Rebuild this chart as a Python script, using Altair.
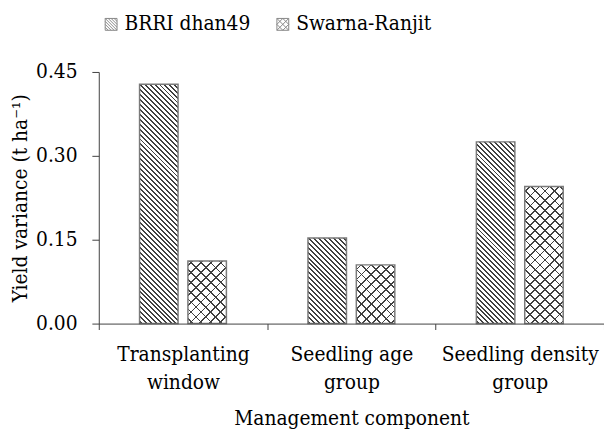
import altair as alt
import pandas as pd

# ---------------- data ----------------
components = ["Transplanting window", "Seedling age group", "Seedling density group"]
varieties = ["BRRI dhan49", "Swarna-Ranjit"]
brri_values = [0.428, 0.153, 0.325]
swarna_values = [0.112, 0.105, 0.245]
y_ticks = [0.0, 0.15, 0.30, 0.45]

# ---------------- style ----------------
FONT = "DejaVu Serif Condensed, DejaVu Serif"
FS = 21
W, H = 512, 255
YMAX = 0.45
BAR_W = 39
GAP = 10
INK = "#404040"
CLEAR = "rgba(255,255,255,0)"

rows = []
for c, b, s in zip(components, brri_values, swarna_values):
    rows.append({"component": c, "variety": varieties[0], "value": b})
    rows.append({"component": c, "variety": varieties[1], "value": s})
df = pd.DataFrame(rows)

band = W / len(components)
step = BAR_W + GAP
p_inner = GAP / step
p_outer = (band / step - 2 + p_inner) / 2


def stripes(value, period, line, color, gap, direction, phase):
    """Linear-gradient fill that draws 45-degree hatch lines on a bar."""
    w = BAR_W
    h = max(value * H / YMAX, 1.0)
    r = h / w
    L = w + h * h / w
    dmax = w + h
    stops = [{"offset": 0, "color": gap}]
    a = phase
    while a < dmax:
        b = min(a + line, L)
        oa, ob = round(a / L, 5), round(b / L, 5)
        stops += [{"offset": oa, "color": gap}, {"offset": oa, "color": color},
                  {"offset": ob, "color": color}, {"offset": ob, "color": gap}]
        a += period
    stops.append({"offset": 1, "color": gap})
    if direction == "back":
        geo = {"x1": 0, "y1": 1, "x2": 1, "y2": round(1 - r, 5)}
    else:
        geo = {"x1": 0, "y1": 0, "x2": 1, "y2": round(r, 5)}
    return {"gradient": "linear", "stops": stops, **geo}


def fill_per_bar(maker):
    conds = []
    for c, b, s in zip(components, brri_values, swarna_values):
        for v, val in zip(varieties, (b, s)):
            conds.append({
                "test": f"datum.component === '{c}' && datum.variety === '{v}'",
                "value": maker(v, val),
            })
    return {"condition": conds, "value": "white"}


def back_maker(v, val):
    if v == varieties[0]:
        return stripes(val, 5.0, 2.0, INK, "white", "back", 1.5)
    return stripes(val, 10.0, 1.8, INK, "white", "back", 4.0)


def fwd_maker(v, val):
    if v == varieties[0]:
        return CLEAR
    return stripes(val, 10.0, 1.8, INK, CLEAR, "fwd", 4.0)


# legend symbol paths (unit square -1..1)
def sym_path(cs_back, cs_fwd):
    p = "M-1,-1H1V1H-1Z"
    for c in cs_back:  # y = x + c
        if c >= 0:
            p += f"M-1,{-1 + c}L{1 - c},1"
        else:
            p += f"M{-1 - c},-1L1,{1 + c}"
    for c in cs_fwd:  # y = -x + c
        if c >= 0:
            p += f"M{-1 + c},1L1,{-1 + c}"
        else:
            p += f"M-1,{1 + c}L{1 + c},-1"
    return p


path_diag = sym_path([-1.5, -1.0, -0.5, 0.0, 0.5, 1.0, 1.5], [])
path_cross = sym_path([-1.0, 0.0, 1.0], [-1.0, 0.0, 1.0])

label_expr = ("[slice(datum.label, 0, lastindexof(datum.label, ' ')), "
              "slice(datum.label, lastindexof(datum.label, ' ') + 1)]")

x_enc = alt.X(
    "component:N", sort=components,
    scale=alt.Scale(paddingInner=0, paddingOuter=0),
    axis=alt.Axis(
        title="Management component", titleFont=FONT, titleFontSize=FS,
        titleFontWeight="normal", titleColor="black", titleY=102,
        titleBaseline="alphabetic",
        labelAngle=0, labelFont=FONT, labelFontSize=FS, labelColor="black",
        labelLineHeight=29, labelExpr=label_expr, labelPadding=14,
        labelOverlap=False, labelLimit=400,
        tickBand="extent", tickSize=6, tickColor="#404040",
        domainColor="#404040", domainWidth=1, zindex=1,
    ),
)
xo_enc = alt.XOffset("variety:N", sort=varieties,
                     scale=alt.Scale(paddingInner=p_inner, paddingOuter=p_outer))
y_axis = alt.Axis(
    values=y_ticks, format=".2f", grid=False,
    title="Yield variance (t ha\u207b\u00b9)", titleFont=FONT, titleFontSize=FS,
    titleFontWeight="normal", titleColor="black", titleAngle=270,
    titleX=-73, titleY=H / 2, titleBaseline="alphabetic", titleAlign="center",
    labelFont=FONT, labelFontSize=FS, labelColor="black", labelPadding=15,
    tickSize=7, tickColor="#404040", domainColor="#404040", zindex=1,
)
y_scale = alt.Scale(domain=[0, YMAX], nice=False, zero=True)

base = alt.Chart(df).encode(
    x=x_enc, xOffset=xo_enc, y=alt.Y("value:Q", scale=y_scale, axis=y_axis)
)

# points hidden under the bars that carry the patterned legend
legend_layer = (
    alt.Chart(df)
    .transform_calculate(mid="datum.value / 2")
    .mark_point(filled=False, color="#555555", strokeWidth=1, size=20)
    .encode(
        x=x_enc, xOffset=xo_enc,
        y=alt.Y("mid:Q", scale=y_scale, axis=y_axis),
        shape=alt.Shape(
            "variety:N", sort=varieties,
            scale=alt.Scale(domain=varieties, range=[path_diag, path_cross]),
            legend=alt.Legend(
                orient="none", legendX=2, legendY=-59, direction="horizontal", title=None,
                symbolSize=144, symbolStrokeWidth=1, symbolStrokeColor="#555555",
                labelFont=FONT, labelFontSize=FS, labelColor="black",
                labelOffset=3, columnPadding=22, padding=0, labelLimit=400,
            ),
        ),
    )
)

hatch_back = base.mark_bar(width=BAR_W, strokeWidth=0).encode(fill=fill_per_bar(back_maker))
hatch_fwd = base.mark_bar(width=BAR_W, strokeWidth=0).encode(fill=fill_per_bar(fwd_maker))
outline = base.mark_bar(width=BAR_W, fillOpacity=0, stroke="#7a7a7a", strokeWidth=1.5)

chart = alt.layer(legend_layer, hatch_back, hatch_fwd, outline).properties(
    width=W, height=H, autosize="none",
    padding={"left": 92, "top": 62, "right": 0, "bottom": 105},
    background="white",
).configure(font=FONT).configure_view(strokeWidth=0)

chart.save("out.html", embed_options={"renderer": "svg", "actions": False})
